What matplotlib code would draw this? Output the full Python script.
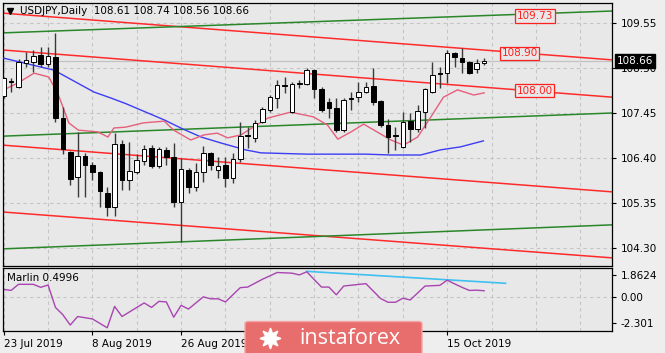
import matplotlib
matplotlib.use("Agg")
import matplotlib.pyplot as plt
import matplotlib.transforms as mtransforms
from matplotlib.patches import FancyBboxPatch
from matplotlib.lines import Line2D
import numpy as np

plt.rcParams['font.family'] = ['DejaVu Sans']

# ---- daily candles, 23 Jul 2019 .. 22 Oct 2019 (bar index 0..65)
opens = [107.85, 108.20, 108.06, 108.62, 108.64, 108.80, 108.59, 108.76, 107.33, 106.54,
         105.96, 106.45, 106.24, 106.07, 105.58, 105.26, 106.73, 105.89, 106.08, 106.33,
         106.63, 106.21, 106.59, 106.42, 105.37, 106.12, 105.72, 106.07, 106.52, 106.12,
         106.24, 105.93, 106.38, 106.93, 106.87, 107.24, 107.52, 107.80, 108.10, 107.47,
         108.13, 108.13, 108.45, 108.01, 107.71, 107.57, 107.05, 107.80, 107.82, 107.94,
         108.08, 107.73, 107.17, 106.93, 106.66, 107.26, 107.08, 107.47, 107.94, 108.38,
         108.38, 108.85, 108.73, 108.64, 108.48, 108.61]
highs = [108.30, 108.27, 108.71, 108.87, 108.92, 108.99, 108.99, 109.32, 107.59, 106.56,
         107.01, 106.52, 106.31, 106.10, 105.72, 106.98, 106.82, 106.77, 106.49, 106.70,
         106.70, 106.66, 106.66, 106.75, 106.40, 106.17, 106.28, 106.68, 106.54, 106.42,
         106.42, 106.52, 107.24, 107.12, 107.29, 107.59, 107.87, 108.22, 108.29, 108.17,
         108.22, 108.50, 108.48, 108.06, 107.80, 107.80, 107.80, 107.94, 108.17, 108.17,
         108.50, 107.75, 107.31, 107.12, 107.47, 107.45, 107.64, 108.03, 108.64, 108.52,
         108.92, 108.87, 108.97, 108.66, 108.71, 108.74]
lows = [107.80, 107.94, 108.03, 108.52, 108.41, 108.52, 108.52, 107.24, 106.49, 105.77,
        105.49, 105.49, 105.89, 105.26, 105.05, 105.05, 105.65, 105.65, 106.03, 106.24,
        106.17, 106.17, 106.24, 105.26, 104.44, 105.58, 105.63, 105.84, 106.12, 105.93,
        105.72, 105.82, 106.31, 106.63, 106.77, 107.22, 107.47, 107.57, 107.92, 107.45,
        108.03, 108.10, 107.80, 107.47, 107.33, 107.01, 107.01, 107.52, 107.71, 107.92,
        107.64, 107.12, 106.52, 106.59, 106.63, 106.77, 107.01, 107.10, 107.92, 108.03,
        108.15, 108.52, 108.38, 108.36, 108.38, 108.56]
closes = [108.27, 108.17, 108.64, 108.69, 108.78, 108.59, 108.78, 107.33, 106.61, 105.91,
          106.45, 106.24, 106.07, 105.63, 105.26, 106.73, 105.89, 106.10, 106.35, 106.61,
          106.21, 106.61, 106.42, 105.37, 106.14, 105.72, 106.07, 106.52, 106.24, 106.21,
          105.93, 106.38, 106.91, 106.91, 107.22, 107.54, 107.82, 108.10, 108.08, 108.13,
          108.15, 108.45, 108.01, 107.52, 107.57, 107.05, 107.75, 107.78, 107.94, 108.06,
          107.71, 107.17, 106.89, 106.91, 107.24, 107.08, 107.50, 108.01, 108.34, 108.36,
          108.85, 108.76, 108.64, 108.38, 108.62, 108.66]

# ---- moving averages (bar index, price)
ma_slow_x = [0, 6.8, 12.2, 14.5, 16.5, 21.7, 24.2, 26.7, 29.4, 32.7, 34.8, 41.1, 49, 52.4, 56.4, 59.1, 61.8, 64.9]
ma_slow_y = [108.73, 108.45, 107.94, 107.80, 107.67, 107.29, 107.08, 106.89, 106.75, 106.59,
             106.52, 106.49, 106.49, 106.47, 106.47, 106.59, 106.66, 106.80]
ma_fast_x = [0, 1.9, 4.1, 6.1, 7.4, 8.8, 10.1, 12.7, 14.1, 14.9, 16.5, 18.9, 21.7, 23.0, 25.3,
             27.1, 28.9, 30.3, 32.1, 35.7, 38.8, 41.9, 43.8, 45.2, 47.0, 48.7, 50.1, 52.4,
             54.1, 56.0, 57.8, 59.5, 61.4, 63.6, 65.0]
ma_fast_y = [107.99, 108.15, 108.38, 108.29, 107.87, 107.22, 107.05, 107.01, 106.89, 107.10,
             107.12, 107.22, 107.26, 107.05, 106.82, 106.94, 106.98, 106.87, 106.94, 107.33,
             107.47, 107.36, 107.17, 106.84, 107.01, 107.19, 107.05, 106.82, 106.70, 106.89,
             107.36, 107.82, 107.99, 107.87, 107.92]

# ---- trend lines (start price, end price) across the window
red_lines = [(109.78, 108.69), (108.92, 107.82), (106.70, 105.61), (105.14, 104.07)]
green_lines = [(109.32, 109.83), (106.91, 107.45), (104.28, 104.84)]
line_span = (-0.1, 82.3)

level_labels = ['109.73', '108.90', '108.00']
level_pos = [(71.9, 109.71), (69.8, 108.84), (71.8, 107.975)]

price_ticks = [109.55, 108.50, 107.45, 106.40, 105.35, 104.30]

# ---- Marlin oscillator
marlin_x = [0, 1, 2, 4, 5, 6, 7, 8, 9, 10, 12, 14, 15, 16, 19, 20, 21, 22, 23, 24, 25, 27,
            28, 29, 30, 32, 33, 35, 37, 39, 40, 41, 43, 44, 45, 46, 49, 51, 52, 53, 54, 55,
            57, 59, 60, 61, 62, 63, 64, 65]
marlin_y = [0.62, 0.53, 1.06, 1.06, 0.80, 1.00, -0.95, -1.59, -2.48, -1.74, -1.95, -2.72,
            -0.86, -1.74, -0.56, -0.95, -0.42, -0.47, -1.80, -0.77, -1.09, -0.03, -0.20,
            -0.20, -0.47, 0.77, 0.82, 1.50, 2.09, 2.03, 1.88, 2.15, 0.82, 0.82, 0.15, 0.91,
            1.12, -0.18, -0.50, -0.50, -0.15, -0.30, 0.91, 0.97, 1.42, 1.10, 0.80, 0.53,
            0.55, 0.50]
marlin_last = 0.4996
marlin_trend = [(41, 2.19), (67.9, 1.15)]
marlin_ticks = [1.8624, 0.0, -2.301]
marlin_tick_labels = ['1.8624', '0.00', '-2.301']

# labels at bars 36 and 48 sit under the watermark in the original
date_ticks = [0, 12, 24, 36, 48, 60]
date_labels = ['23 Jul 2019', '8 Aug 2019', '26 Aug 2019', '', '', '15 Oct 2019']
grid_ticks = list(range(0, 83, 6))

W, H = 665, 353
fig = plt.figure(figsize=(W / 100, H / 100), dpi=100)
fig.patch.set_facecolor('#eeeeee')
bg = '#e8e8e8'
fs = 7.5

ax = fig.add_axes([3 / W, 1 - 266 / H, 609 / W, 263 / H])
ax2 = fig.add_axes([3 / W, 1 - 331 / H, 609 / W, 63 / H])
for a in (ax, ax2):
    a.set_facecolor(bg)
    a.set_xlim(*line_span)
    for s in a.spines.values():
        s.set_color('black')
        s.set_linewidth(0.9)

# main panel
ax.set_ylim(103.88, 110.017)
ax.yaxis.tick_right()
ax.set_yticks(price_ticks)
ax.set_yticklabels([f"{v:.2f}" for v in price_ticks])
ax.tick_params(axis='y', direction='out', length=3, pad=3, labelsize=fs, colors='black')
ax.set_xticks(grid_ticks)
ax.tick_params(axis='x', length=0, labelbottom=False)
ax.grid(True, color='#c4c4c4', linestyle=(0, (3, 3)), linewidth=0.8)
ax.set_axisbelow(True)

ax.axhline(closes[-1], color='#c2c2c2', lw=0.9, zorder=1)

for p0, p1 in red_lines:
    ax.plot(line_span, [p0, p1], color='#ff2b2b', lw=1.1, zorder=2)
for p0, p1 in green_lines:
    ax.plot(line_span, [p0, p1], color='#2a862a', lw=1.1, zorder=2)

ax.plot(ma_slow_x, ma_slow_y, color='#3c3cf5', lw=1.0, zorder=3)
ax.plot(ma_fast_x, ma_fast_y, color='#e65f7c', lw=1.0, zorder=3)

idx = np.arange(len(opens))
o = np.array(opens); c = np.array(closes)
ax.vlines(idx, lows, highs, color='#3a3a3a', lw=1.0, zorder=4)
fills = ['white' if cc >= oo else 'black' for oo, cc in zip(o, c)]
ax.bar(idx, np.abs(c - o), bottom=np.minimum(o, c), width=0.62, color=fills,
       edgecolor='black', linewidth=0.7, zorder=5)

for txt, (x, y) in zip(level_labels, level_pos):
    ax.text(x, y, txt, color='#ff2020', fontsize=fs, ha='center', va='center', zorder=7,
            bbox=dict(facecolor=bg, edgecolor='#ff2020', pad=1.2, linewidth=0.9))

trans = mtransforms.blended_transform_factory(ax.transAxes, ax.transData)
ax.text(1.008, closes[-1], f"{closes[-1]:.2f}", transform=trans, color='white', fontsize=fs,
        ha='left', va='center', clip_on=False, zorder=10,
        bbox=dict(facecolor='black', edgecolor='black', pad=1.6))

ax.plot([0.0115], [0.968], marker='v', ms=4, color='black', transform=ax.transAxes, clip_on=False)
ax.text(17 / 609, 0.968, 'USDJPY,Daily  108.61 108.74 108.56 108.66', transform=ax.transAxes,
        fontsize=fs, va='center', ha='left')

# indicator panel
ax2.set_ylim(-3.0, 2.48)
ax2.yaxis.tick_right()
ax2.set_yticks(marlin_ticks)
ax2.set_yticklabels(marlin_tick_labels)
ax2.tick_params(axis='y', direction='out', length=3, pad=3, labelsize=fs)
ax2.set_xticks(date_ticks)
ax2.set_xticklabels(date_labels)
ax2.set_xticks([g for g in grid_ticks if g not in date_ticks], minor=True)
ax2.tick_params(axis='x', which='major', direction='out', length=3, pad=3, labelsize=fs)
ax2.tick_params(axis='x', which='minor', length=0)
for lbl in ax2.get_xticklabels():
    lbl.set_ha('left')
ax2.grid(True, axis='x', which='both', color='#c4c4c4', linestyle=(0, (3, 3)), linewidth=0.8)
ax2.axhline(0, color='#c4c4c4', linestyle=(0, (3, 3)), linewidth=0.8, zorder=0)
ax2.set_axisbelow(True)

ax2.plot([p[0] for p in marlin_trend], [p[1] for p in marlin_trend], color='#3fc0f0', lw=1.2)
ax2.plot(marlin_x, marlin_y, color='#a845b0', lw=1.0)
ax2.text(0.0066, 0.84, f"Marlin {marlin_last:.4f}", transform=ax2.transAxes, fontsize=fs, va='center')

# watermark
fig.add_artist(FancyBboxPatch((245 / W, -0.02), 177 / W, 31.5 / H + 0.02,
                              boxstyle='round,pad=0,rounding_size=0.006',
                              transform=fig.transFigure, facecolor='#e86e6e',
                              edgecolor='#f3a5a5', linewidth=1.0, zorder=20))
fig.add_artist(Line2D([270 / W], [1 - 338 / H], marker=(8, 1, 0), ms=15, color='white',
                      transform=fig.transFigure, zorder=21))
fig.text(350 / W, 1 - 338 / H, 'instaforex', color='white', fontsize=15.5, ha='center',
         va='center', family='Open Sans', zorder=21)

fig.savefig('out.png', dpi=100, facecolor=fig.get_facecolor())
